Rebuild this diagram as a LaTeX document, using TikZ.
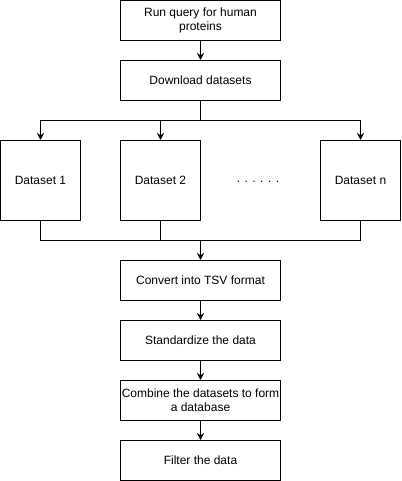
\documentclass[tikz,border=0pt]{standalone}
\usepackage{fontspec}
\setmainfont{Liberation Sans}
\usetikzlibrary{arrows.meta,positioning}

\begin{document}
\begin{tikzpicture}[x=1pt,y=-1pt,
  box/.style={draw, line width=1pt, minimum width=160pt, minimum height=40pt,
    inner sep=0pt, align=center, font=\fontsize{12}{14}\selectfont},
  databox/.style={box, minimum width=80pt, minimum height=80pt},
  arr/.style={line width=1pt, -{Stealth[length=7pt,width=7pt]}},
  link/.style={line width=1pt}]

% Fix the page size
\useasboundingbox (0,0) rectangle (401,481);

% Draw the first steps
\node[box] (query) at (200.5,20.5) {Run query for human\\proteins};
\node[box] (download) at (200.5,80.5) {Download datasets};

% Draw the datasets
\node[databox] (set1) at (40.5,180.5) {Dataset 1};
\node[databox] (set2) at (160.5,180.5) {Dataset 2};
\node[databox] (setn) at (360.5,180.5) {Dataset n};
\node[anchor=base, font=\fontsize{12}{14}\selectfont] (dots) at (258,182) {. . . . . .};

% Draw the processing steps
\node[box] (convert) at (200.5,280.5) {Convert into TSV format};
\node[box] (standard) at (200.5,340.5) {Standardize the data};
\node[box] (combine) at (200.5,400.5) {Combine the datasets to form\\a database};
\node[box] (filter) at (200.5,460.5) {Filter the data};

% Split and merge points
\coordinate (split) at (200.5,120.5);
\coordinate (merge) at (200.5,240.5);

% Connect everything
\draw[arr] (query) -- (download);
\draw[link] (download) -- (split);
\foreach \s in {set1,set2,setn}
  \draw[arr] (split) -| (\s);
\foreach \s in {set1,set2,setn}
  \draw[link] (\s) |- (merge);
\draw[arr] (merge) -- (convert);
\draw[arr] (convert) -- (standard);
\draw[arr] (standard) -- (combine);
\draw[arr] (combine) -- (filter);

\end{tikzpicture}
\end{document}
